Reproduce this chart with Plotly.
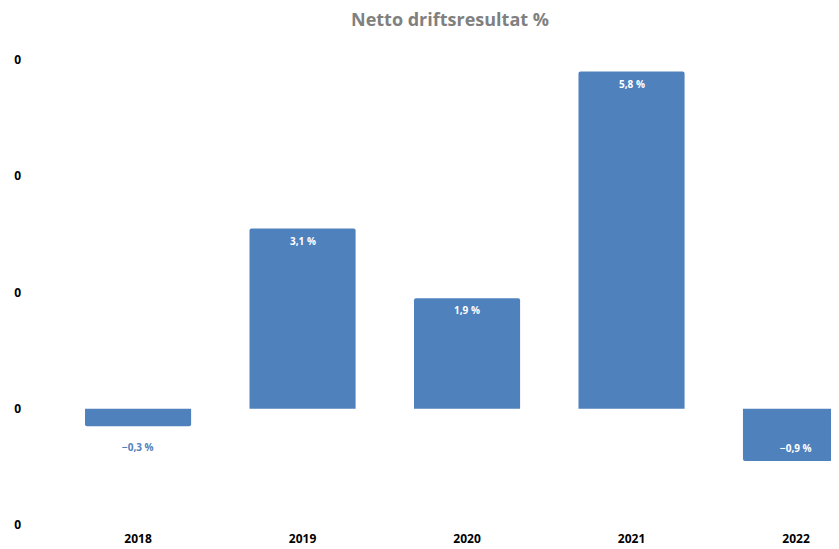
import plotly.graph_objects as go

# data
years = ["2018", "2019", "2020", "2021", "2022"]
result_pct = [-0.3, 3.1, 1.9, 5.8, -0.9]
tick_vals = [-2, 0, 2, 4, 6]
tick_text = ["0", "0", "0", "0", "0"]

bar_color = "#4F81BD"
font_family = "Open Sans, Liberation Sans, sans-serif"


def fmt(v):
    # Norwegian style: comma decimal, real minus sign
    return f"{v:.1f}".replace(".", ",").replace("-", "\u2212") + " %"


fig = go.Figure()

fig.add_trace(go.Bar(
    x=years,
    y=result_pct,
    marker=dict(color=bar_color, line=dict(width=0)),
    hoverinfo="x+y",
))

# data labels: inside the bar end, small bars get the label outside
# (annotations on a category axis take the category index)
for i, v in enumerate(result_pct):
    outside = abs(v) < 0.5
    if v >= 0:
        shift = 12 if outside else -12
    else:
        shift = -21 if outside else 13
    fig.add_annotation(
        x=i, y=v, text=fmt(v), showarrow=False, yshift=shift,
        font=dict(size=10, color=bar_color if outside else "white",
                  family=font_family, weight="bold"),
    )

# the page body adds an 8px offset, so positions below are shifted back by 8
# the plot runs past the right edge so the last bar is cut, like the original
fig.update_layout(
    title=dict(text="Netto driftsresultat %", x=442 / 839, xanchor="center",
               y=1 - 12 / 549, yanchor="middle",
               font=dict(size=18, color="#808080", family=font_family,
                         weight="bold")),
    width=839,
    height=549,
    margin=dict(l=22, r=0, t=37, b=27),
    paper_bgcolor="white",
    plot_bgcolor="white",
    bargap=0.355,
    barcornerradius=2,
    showlegend=False,
    xaxis=dict(
        type="category",
        range=[-0.657, 4.31],
        showgrid=False, zeroline=False, showline=False,
        ticks="", tickfont=dict(size=12, color="black", family=font_family,
                                weight="bold"),
    ),
    yaxis=dict(
        range=[-2.086, 6.258],
        tickvals=tick_vals, ticktext=tick_text,
        showgrid=False, zeroline=False, showline=False,
        ticks="", ticklabelstandoff=8,
        tickfont=dict(size=12, color="black", family=font_family,
                      weight="bold"),
    ),
)

fig.write_html("out.html")
